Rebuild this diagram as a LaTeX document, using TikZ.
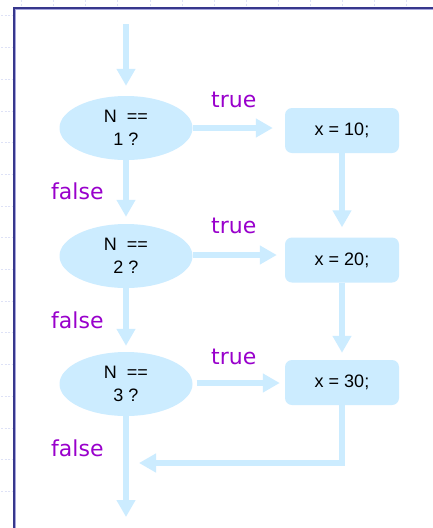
\documentclass[tikz,border=0pt]{standalone}
\usepackage{fontspec}
\setmainfont{Liberation Sans}
\newfontfamily\lblfont{DejaVu Sans}
\usetikzlibrary{shapes.geometric,arrows.meta}
\definecolor{flow}{RGB}{204,236,255}
\definecolor{lbl}{RGB}{153,0,204}
\definecolor{framedk}{RGB}{55,55,140}
\definecolor{framelt}{RGB}{165,165,220}
\definecolor{tickc}{RGB}{222,226,246}
\begin{document}
\begin{tikzpicture}[x=1pt,y=-1pt,
  dec/.style={ellipse,fill=flow,minimum width=133pt,minimum height=64pt,inner sep=0pt,align=center,font=\fontsize{18}{23}\selectfont},
  act/.style={rectangle,rounded corners=7pt,fill=flow,minimum width=114pt,minimum height=45pt,inner sep=0pt,font=\fontsize{18}{22}\selectfont},
  arr/.style={draw=flow,line width=6.5pt,line join=miter,-{Triangle[length=17pt,width=18pt]}},
  lab/.style={anchor=base west,inner sep=0pt,text=lbl,font=\lblfont\fontsize{22}{26}\selectfont},
  tk/.style={draw=tickc,line width=0.6pt,dash pattern=on 2pt off 1.5pt}]
\useasboundingbox (0,0) rectangle (433,528);
\fill[white] (0,0) rectangle (433,528);
% faint ruler ticks
\foreach \k in {0,...,12} \draw[tk] (21.7+32.03*\k,0) -- (21.7+32.03*\k,6);
\foreach \k in {0,...,15} \draw[tk] (1,15.7+31.7*\k) -- (12,15.7+31.7*\k);
% frame
\draw[framelt,line width=1pt] (15.6,528) -- (15.6,9.6) -- (433,9.6);
\draw[framedk,line width=1.3pt] (14,528) -- (14,8) -- (433,8);
% decisions
\node[dec] (e1) at (126,128) {N\ \ ==\\1 ?};
\node[dec] (e2) at (126,256) {N\ \ ==\\2 ?};
\node[dec] (e3) at (126,384) {N\ \ ==\\3 ?};
% actions
\node[act] (b1) at (342,130.5) {x = 10;};
\node[act] (b2) at (342,260) {x = 20;};
\node[act] (b3) at (342,382.5) {x = 30;};
% coordinates
\coordinate (top) at (126,24);
\coordinate (bot) at (126,517);
\coordinate (corner) at (342,463);
\coordinate (join) at (139,463);
% connectors
\draw[arr,shorten >=10pt] (top) -- (e1.north);
\draw[arr,shorten >=7pt] (e1.south) -- (e2.north);
\draw[arr,shorten >=6pt] (e2.south) -- (e3.north);
\draw[arr] (e3.south) -- (bot);
\draw[arr,shorten >=12pt] (e1.east) -- (e1.east -| b1.west);
\draw[arr,shorten >=8pt] ([yshift=1pt]e2.east) -- ([yshift=1pt]e2.east -| b2.west);
\draw[arr,shorten <=4pt,shorten >=5pt] ([yshift=1pt]e3.east) -- ([yshift=1pt]e3.east -| b3.west);
\draw[arr,shorten >=10pt] (b1.south) -- (b2.north);
\draw[arr,shorten >=7pt] (b2.south) -- (b3.north);
\draw[arr] (b3.south) -- (corner) -- (join);
% labels
\node[lab] (t1) at (211,107.5) {true};
\node[lab] (t2) at (211,233) {true};
\node[lab] (t3) at (211,364) {true};
\node[lab] (f1) at (51,199.5) {false};
\node[lab] (f2) at (51,328) {false};
\node[lab] (f3) at (51,456.5) {false};
\end{tikzpicture}
\end{document}
